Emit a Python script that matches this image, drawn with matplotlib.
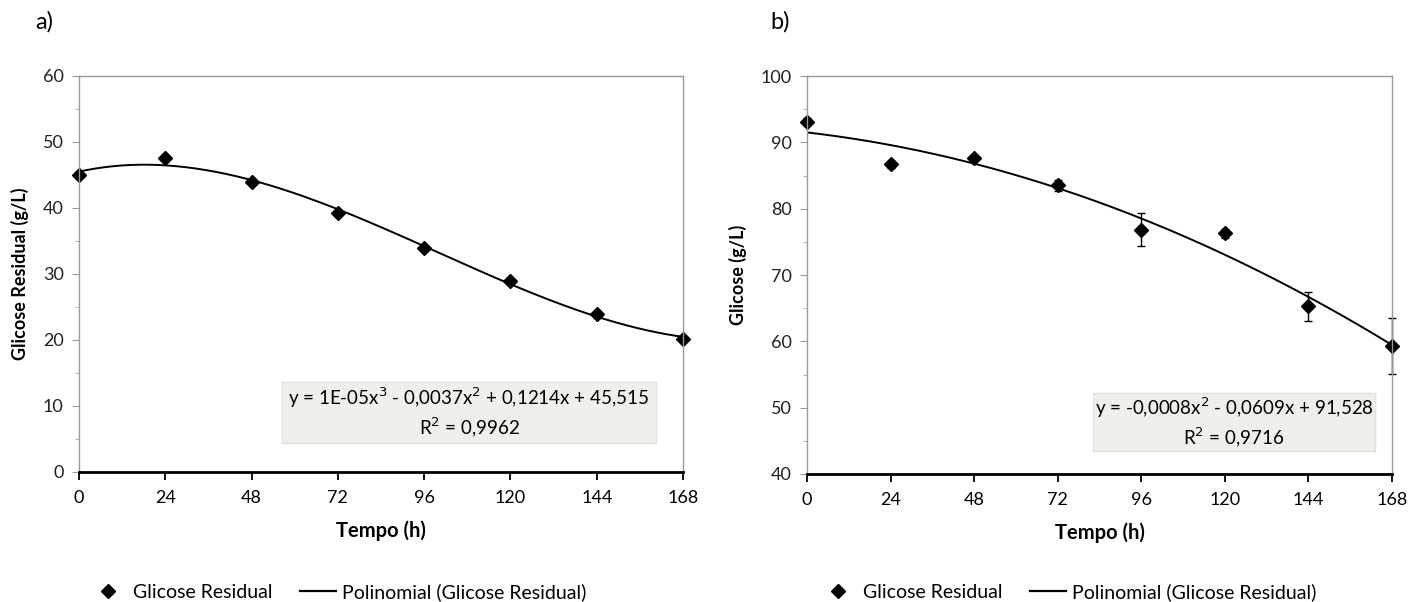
import numpy as np
import matplotlib
matplotlib.use('Agg')
import matplotlib.pyplot as plt
from matplotlib.lines import Line2D
from matplotlib.patches import Rectangle

plt.rcParams['font.family'] = ['Lato', 'DejaVu Sans']

tempo = [0, 24, 48, 72, 96, 120, 144, 168]

# painel a
glic_a = [45.0, 47.6, 44.0, 39.2, 33.9, 28.9, 23.9, 20.2]
err_a = [0.4, 0.4, 0.4, 0.4, 0.4, 0.4, 0.5, 0.4]

# painel b
glic_b = [93.1, 86.7, 87.7, 83.5, 76.8, 76.3, 65.3, 59.3]
err_b = [0.5, 0.5, 0.4, 0.8, 2.5, 0.7, 2.2, 4.2]

eq_a = "y = 1E-05x$^3$ - 0,0037x$^2$ + 0,1214x + 45,515\nR$^2$ = 0,9962"
eq_b = "y = -0,0008x$^2$ - 0,0609x + 91,528\nR$^2$ = 0,9716"

fig = plt.figure(figsize=(14.24, 6.02), dpi=100)
W, H = 1424, 602


def painel(rect, y, err, grau, ylim, ylabel, eq, caixa, letra, letrapos, legx):
    ax = fig.add_axes([rect[0] / W, 1 - rect[3] / H, (rect[2] - rect[0]) / W, (rect[3] - rect[1]) / H])
    x = np.array(tempo)
    coef = np.polyfit(x, y, grau)
    xs = np.linspace(0, 168, 300)
    ax.plot(xs, np.polyval(coef, xs), color='black', lw=1.4)
    ax.errorbar(x, y, yerr=err, fmt='D', color='black', ms=7, capsize=3, elinewidth=1, capthick=1, clip_on=False)
    ax.set_xlim(0, 168)
    ax.set_ylim(*ylim)
    ax.set_xticks(range(0, 169, 24))
    ax.set_yticks(range(ylim[0], ylim[1] + 1, 10))
    ax.set_yticks(np.arange(ylim[0] + 5, ylim[1], 10), minor=True)
    ax.tick_params(axis='x', which='major', direction='out', length=6, width=1.3, labelsize=13,
                   colors='black', pad=7)
    ax.tick_params(axis='y', which='major', direction='out', length=5, labelsize=13,
                   colors='#999999', labelcolor='#222222', pad=6)
    ax.tick_params(axis='y', which='minor', direction='out', length=3, colors='#aaaaaa')
    for s in ['top', 'right', 'left']:
        ax.spines[s].set_color('#999999')
        ax.spines[s].set_linewidth(1)
    ax.spines['bottom'].set_color('black')
    ax.spines['bottom'].set_linewidth(2)
    ax.set_xlabel('Tempo (h)', fontsize=14.5, fontweight='bold', labelpad=10)
    ax.set_ylabel(ylabel, fontsize=13, fontweight='bold', labelpad=10)
    # caixa da equação (em pixels da figura)
    x0 = (caixa[0] - rect[0]) / (rect[2] - rect[0])
    x1 = (caixa[2] - rect[0]) / (rect[2] - rect[0])
    y0 = (rect[3] - caixa[3]) / (rect[3] - rect[1])
    y1 = (rect[3] - caixa[1]) / (rect[3] - rect[1])
    ax.add_patch(Rectangle((x0, y0), x1 - x0, y1 - y0, transform=ax.transAxes,
                           facecolor='#efefeb', edgecolor='#e2e2dc', lw=1, zorder=1))
    ax.text((x0 + x1) / 2, (y0 + y1) / 2, eq, transform=ax.transAxes, ha='center', va='center',
            fontsize=13.5, linespacing=1.3, zorder=2)
    fig.text(letrapos[0] / W, 1 - letrapos[1] / H, letra, fontsize=17, ha='left', va='center')
    hand = [Line2D([], [], marker='D', color='black', ls='none', ms=7),
            Line2D([], [], color='black', lw=1.6)]
    fig.legend(hand, ['Glicose Residual', 'Polinomial (Glicose Residual)'], loc='center left',
               bbox_to_anchor=(legx / W, 1 - 592 / H), ncol=2, frameon=False, borderpad=0,
               borderaxespad=0, fontsize=14, handlelength=1.9, columnspacing=1.4, handletextpad=0.3)
    return ax


painel((79, 76, 683, 472), glic_a, err_a, 3, (0, 60), 'Glicose Residual (g/L)', eq_a,
       (282, 382, 656, 443), 'a)', (35, 22), 90)
painel((807, 76, 1392, 474), glic_b, err_b, 2, (40, 100), 'Glicose (g/L)', eq_b,
       (1093, 393, 1375, 451), 'b)', (770, 22), 820)

fig.savefig('out.png', dpi=100)
